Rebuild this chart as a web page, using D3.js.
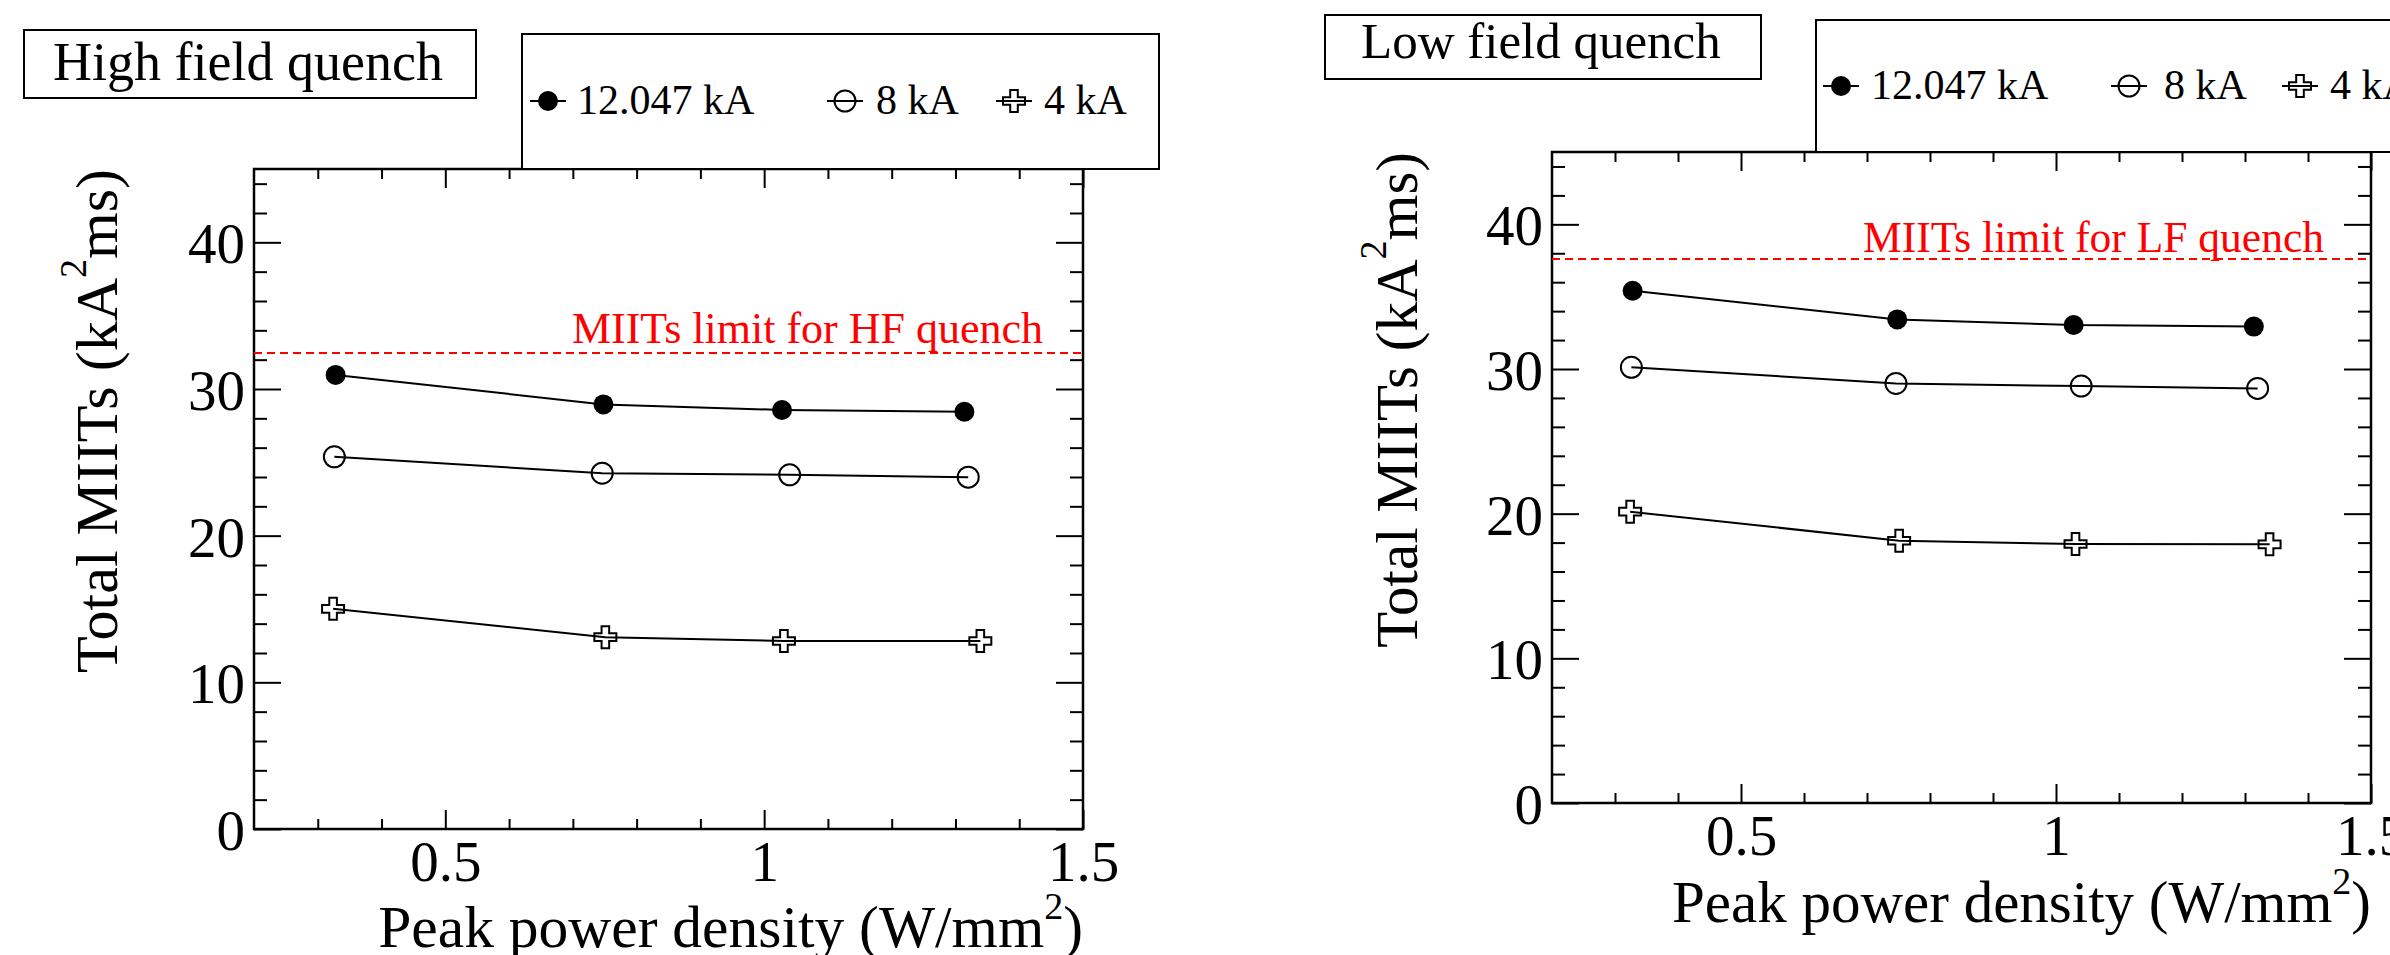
<!DOCTYPE html>
<html><head><meta charset="utf-8">
<script src="https://cdn.jsdelivr.net/npm/d3@7"></script>
<style>
html,body{margin:0;padding:0;background:#fff;overflow:hidden;}
svg{display:block;font-family:"Liberation Serif","Times New Roman",Times,serif;}
</style></head><body>
<svg id="chart" width="2390" height="955"></svg>
<script>
// ---------------- data ----------------
const xTickValues = [0.5, 1, 1.5];
const xTickLabels = ["0.5", "1", "1.5"];
const yTickValues = [0, 10, 20, 30, 40];
const yTickLabels = ["0", "10", "20", "30", "40"];
const seriesNames = ["12.047 kA", "8 kA", "4 kA"];
const panelTitles = ["High field quench", "Low field quench"];
const limitLabels = ["MIITs limit for HF quench", "MIITs limit for LF quench"];
const xAxisTitle = "Peak power density (W/mm";
const yAxisTitle = "Total MIITs (kA";

// peak power density (W/mm^2) per series
const power12 = [0.328, 0.748, 1.028, 1.314];
const power8  = [0.326, 0.746, 1.040, 1.320];
const power4  = [0.324, 0.751, 1.031, 1.339];

// high field quench, total MIITs (kA^2 ms)
const hfMiits12 = [30.96, 28.95, 28.57, 28.45];
const hfMiits8  = [25.38, 24.26, 24.15, 23.99];
const hfMiits4  = [15.01, 13.08, 12.82, 12.82];

// low field quench, total MIITs (kA^2 ms)
const lfMiits12 = [35.41, 33.43, 33.04, 32.93];
const lfMiits8  = [30.12, 29.00, 28.82, 28.66];
const lfMiits4  = [20.14, 18.13, 17.90, 17.88];

const limitValues = [32.45, 37.6];
const xDomain = [0.2, 1.5];
const yDomain = [0, 45];

// ---------------- layout ----------------
const panels = [
  {x0:254, x1:1083, y0:169, y1:829, tickFont:57, yTitleX:117, yTitleFont:60,
   xTitleBase:947, xTitleFont:59.5, tBox:[24,30,476,98], tX:53, tBase:80, tFont:54,
   lBox:[522,34,1159,169], lMk:[548,845,1014], lTx:[577,876,1044], lY:101,
   limEnd:1043, limOff:-10, limFont:44,
   series:[[power12,hfMiits12],[power8,hfMiits8],[power4,hfMiits4]], limit:limitValues[0]},
  {x0:1552, x1:2371, y0:152, y1:803, tickFont:57, yTitleX:1417, yTitleFont:59,
   xTitleBase:922, xTitleFont:59, tBox:[1325,15,1761,79], tX:1361, tBase:58, tFont:51,
   lBox:[1816,20,2500,152], lMk:[1841,2129,2300], lTx:[1871,2164,2330], lY:86,
   limEnd:2324, limOff:-7, limFont:43.5,
   series:[[power12,lfMiits12],[power8,lfMiits8],[power4,lfMiits4]], limit:limitValues[1]}
];

const svg = d3.select("#chart");

function crossPath(h, a) {
  return `M${-a},${-h}L${a},${-h}L${a},${-a}L${h},${-a}L${h},${a}L${a},${a}L${a},${h}L${-a},${h}L${-a},${a}L${-h},${a}L${-h},${-a}L${-a},${-a}Z`;
}
function drawMarker(g, type, cx, cy) {
  if (type === 0) {
    g.append("circle").attr("cx", cx).attr("cy", cy).attr("r", 10).attr("fill", "#000");
  } else if (type === 1) {
    g.append("circle").attr("cx", cx).attr("cy", cy).attr("r", 10.5)
      .attr("fill", "none").attr("stroke", "#000").attr("stroke-width", 2);
  } else {
    g.append("path").attr("d", crossPath(11, 3.8)).attr("transform", `translate(${cx},${cy})`)
      .attr("fill", "none").attr("stroke", "#000").attr("stroke-width", 2);
  }
}

const minorX = d3.range(3, 15).map(d => d / 10).filter(v => Math.abs(v - 0.5) > 1e-6 && Math.abs(v - 1) > 1e-6);
const minorY = d3.range(1, 23).map(d => d * 2).filter(v => v % 10 !== 0);

panels.forEach((p, pi) => {
  const x = d3.scaleLinear().domain(xDomain).range([p.x0, p.x1]);
  const y = d3.scaleLinear().domain(yDomain).range([p.y1, p.y0]);
  const g = svg.append("g");

  function styleAxis(sel) {
    sel.select(".domain").remove();
    sel.selectAll("line").attr("stroke", "#000").attr("stroke-width", 2);
    sel.attr("font-family", null).attr("font-size", p.tickFont);
    sel.selectAll("text").attr("fill", "#000");
  }

  // bottom axis
  g.append("g").attr("transform", `translate(0,${p.y1})`)
    .call(d3.axisBottom(x).tickValues(xTickValues).tickSizeInner(-19).tickSizeOuter(0)
      .tickPadding(12).tickFormat((d, i) => xTickLabels[i])).call(styleAxis);
  g.append("g").attr("transform", `translate(0,${p.y1})`)
    .call(d3.axisBottom(x).tickValues(minorX).tickSize(-10).tickFormat("")).call(styleAxis);
  // top axis
  g.append("g").attr("transform", `translate(0,${p.y0})`)
    .call(d3.axisTop(x).tickValues(xTickValues).tickSize(-19).tickFormat("")).call(styleAxis);
  g.append("g").attr("transform", `translate(0,${p.y0})`)
    .call(d3.axisTop(x).tickValues(minorX).tickSize(-10).tickFormat("")).call(styleAxis);
  // left axis
  g.append("g").attr("transform", `translate(${p.x0},0)`)
    .call(d3.axisLeft(y).tickValues(yTickValues).tickSizeInner(-27).tickSizeOuter(0)
      .tickPadding(9).tickFormat((d, i) => yTickLabels[i])).call(styleAxis)
    .selectAll("text").attr("dy", "0.36em");
  g.append("g").attr("transform", `translate(${p.x0},0)`)
    .call(d3.axisLeft(y).tickValues(minorY).tickSize(-13).tickFormat("")).call(styleAxis);
  // right axis
  g.append("g").attr("transform", `translate(${p.x1},0)`)
    .call(d3.axisRight(y).tickValues(yTickValues).tickSize(-27).tickFormat("")).call(styleAxis);
  g.append("g").attr("transform", `translate(${p.x1},0)`)
    .call(d3.axisRight(y).tickValues(minorY).tickSize(-13).tickFormat("")).call(styleAxis);

  // frame
  g.append("rect").attr("x", p.x0).attr("y", p.y0).attr("width", p.x1 - p.x0).attr("height", p.y1 - p.y0)
    .attr("fill", "none").attr("stroke", "#000").attr("stroke-width", 2.5);

  // limit line
  g.append("line").attr("x1", x(xDomain[0])).attr("x2", x(xDomain[1]))
    .attr("y1", y(p.limit)).attr("y2", y(p.limit))
    .attr("stroke", "#ff0000").attr("stroke-width", 2).attr("stroke-dasharray", "8,5");
  g.append("text").attr("x", p.limEnd).attr("y", y(p.limit) + p.limOff)
    .attr("text-anchor", "end").attr("font-size", p.limFont).attr("fill", "#ff0000").text(limitLabels[pi]);

  // series
  const line = d3.line().x(d => x(d[0])).y(d => y(d[1]));
  p.series.forEach((s, si) => {
    const pts = s[0].map((v, i) => [v, s[1][i]]);
    g.append("path").attr("d", line(pts)).attr("fill", "none").attr("stroke", "#000").attr("stroke-width", 2);
    pts.forEach(d => drawMarker(g, si, x(d[0]), y(d[1])));
  });

  // axis titles
  const yt = g.append("text").attr("transform", `translate(${p.yTitleX},${p.y0}) rotate(-90)`)
    .attr("text-anchor", "end").attr("font-size", p.yTitleFont).attr("fill", "#000");
  yt.append("tspan").text(yAxisTitle);
  yt.append("tspan").attr("font-size", 38).attr("dy", -31).text("2");
  yt.append("tspan").attr("dy", 31).text("ms)");

  const xt = g.append("text").attr("x", p.x1).attr("y", p.xTitleBase)
    .attr("text-anchor", "end").attr("font-size", p.xTitleFont).attr("fill", "#000");
  xt.append("tspan").text(xAxisTitle);
  xt.append("tspan").attr("font-size", 38).attr("dy", -28).text("2");
  xt.append("tspan").attr("dy", 28).text(")");

  // title box
  const tb = p.tBox;
  g.append("rect").attr("x", tb[0]).attr("y", tb[1]).attr("width", tb[2] - tb[0]).attr("height", tb[3] - tb[1])
    .attr("fill", "#fff").attr("stroke", "#000").attr("stroke-width", 2);
  g.append("text").attr("x", p.tX).attr("y", p.tBase).attr("font-size", p.tFont).attr("fill", "#000").text(panelTitles[pi]);

  // legend
  const lb = p.lBox;
  g.append("rect").attr("x", lb[0]).attr("y", lb[1]).attr("width", lb[2] - lb[0]).attr("height", lb[3] - lb[1])
    .attr("fill", "#fff").attr("stroke", "#000").attr("stroke-width", 2);
  seriesNames.forEach((name, si) => {
    const mx = p.lMk[si];
    g.append("line").attr("x1", mx - 18).attr("x2", mx + 18).attr("y1", p.lY).attr("y2", p.lY)
      .attr("stroke", "#000").attr("stroke-width", 2);
    drawMarker(g, si, mx, p.lY);
    g.append("text").attr("x", p.lTx[si]).attr("y", p.lY + 13).attr("font-size", 42).attr("fill", "#000").text(name);
  });
});
</script>
</body></html>
